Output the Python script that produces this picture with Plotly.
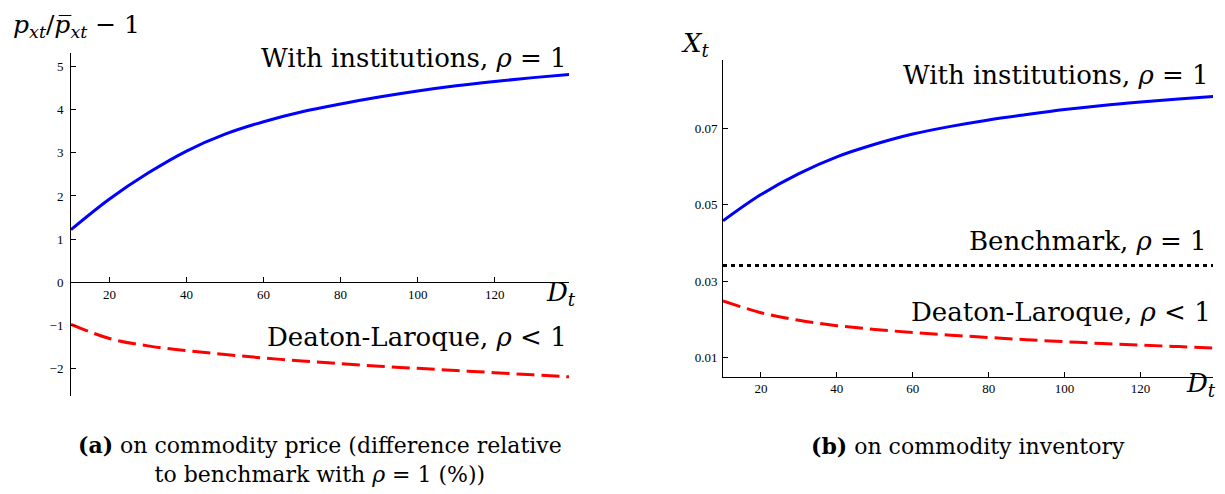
import plotly.graph_objects as go

# demand D_t (x axis) shared by both panels
demand = [10, 20, 30, 40, 50, 60, 70, 80, 90, 100, 110, 120, 130, 140]

# panel (a): price difference vs benchmark, in %
price_inst = [1.22, 1.93, 2.53, 3.04, 3.43, 3.72, 3.95, 4.13, 4.29, 4.43, 4.55, 4.65, 4.74, 4.82]
price_dl = [-0.97, -1.30, -1.47, -1.58, -1.67, -1.75, -1.82, -1.88, -1.94, -1.99, -2.04, -2.09, -2.14, -2.19]

# panel (b): inventory
inv_inst = [0.0458, 0.0527, 0.0582, 0.0626, 0.0659, 0.0686, 0.0706, 0.0723, 0.0737,
            0.0750, 0.0761, 0.0770, 0.0778, 0.0785]
inv_bench = [0.0341] * len(demand)
inv_dl = [0.0248, 0.0217, 0.0197, 0.0183, 0.0173, 0.0165, 0.0158, 0.0152, 0.0146,
          0.0141, 0.0136, 0.0132, 0.0128, 0.0124]

x_ticks = [20, 40, 60, 80, 100, 120]
price_ticks = [-2, -1, 0, 1, 2, 3, 4, 5]
inv_ticks = [0.01, 0.03, 0.05, 0.07]

W, H = 1225, 494
SERIF = "DejaVu Serif"

fig = go.Figure()

# left panel
fig.add_trace(go.Scatter(x=demand, y=price_inst, mode="lines", line_shape="spline",
                         line=dict(color="#0000ff", width=3), xaxis="x", yaxis="y"))
fig.add_trace(go.Scatter(x=demand, y=price_dl, mode="lines", line_shape="spline",
                         line=dict(color="#ff0000", width=3, dash="18px,7px"), xaxis="x", yaxis="y"))
# right panel
fig.add_trace(go.Scatter(x=demand, y=inv_inst, mode="lines", line_shape="spline",
                         line=dict(color="#0000ff", width=3), xaxis="x2", yaxis="y2"))
fig.add_trace(go.Scatter(x=demand, y=inv_bench, mode="lines",
                         line=dict(color="black", width=3, dash="4px,4px"), xaxis="x2", yaxis="y2"))
fig.add_trace(go.Scatter(x=demand, y=inv_dl, mode="lines", line_shape="spline",
                         line=dict(color="#ff0000", width=3, dash="18px,7px"), xaxis="x2", yaxis="y2"))

tickfont = dict(family="Liberation Serif", size=13, color="black")
ax_common = dict(showgrid=False, zeroline=False, showline=True, linecolor="black", linewidth=1,
                 ticks="inside", ticklen=5, tickcolor="black", tickfont=tickfont)

# pixel -> paper helpers
def px(x):
    return x / W

def py(y):
    return 1 - y / H

fig.update_layout(
    width=W, height=H,
    margin=dict(l=0, r=0, t=0, b=0),
    paper_bgcolor="white", plot_bgcolor="white",
    showlegend=False,
    xaxis=dict(domain=[px(63), px(561)], range=[10, 139.3], tickvals=x_ticks,
               anchor="free", position=py(274.3), **ax_common),
    yaxis=dict(domain=[py(388), py(45)], range=[-2.63, 5.31], tickvals=price_ticks,
               anchor="x", ticklabelstandoff=4, **ax_common),
    xaxis2=dict(domain=[px(715), px(1205)], range=[10, 139.1], tickvals=x_ticks,
                anchor="y2", **ax_common),
    yaxis2=dict(domain=[py(368.7), py(51.7)], range=[0.0049, 0.0881], tickvals=inv_ticks,
                anchor="x2", ticklabelstandoff=2, **ax_common),
)

big = dict(family=SERIF, size=26, color="black")
cap = dict(family=SERIF, size=22, color="black")

def note(x, y, text, xanchor="right", font=big):
    fig.add_annotation(x=px(x), y=py(y - 8), xref="paper", yref="paper", text=text,
                       showarrow=False, xanchor=xanchor, yanchor="middle", font=font,
                       borderpad=0)

# panel (a) labels
note(4, 26, "<i>p</i><sub><i>xt</i></sub>/<i>p̅</i><sub><i>xt</i></sub> − 1", xanchor="left",
     font=dict(family=SERIF, size=25, color="black"))
note(560, 58, "With institutions, <i>ρ</i> = 1")
note(537, 293, "<i>D</i><sub><i>t</i></sub>", xanchor="left")
note(560, 337, "Deaton-Laroque, <i>ρ</i> &lt; 1")

# panel (b) labels
note(672, 45, "<i>X</i><sub><i>t</i></sub>", xanchor="left")
note(1202, 75, "With institutions, <i>ρ</i> = 1")
note(1200, 241, "Benchmark, <i>ρ</i> = 1")
note(1204, 312, "Deaton-Laroque, <i>ρ</i> &lt; 1")
note(1177, 384, "<i>D</i><sub><i>t</i></sub>", xanchor="left")

# captions
note(312, 459, "<b>(a)</b> on commodity price (difference relative<br>to benchmark with <i>ρ</i> = 1 (%))",
     xanchor="center", font=cap)
note(960, 446, "<b>(b)</b> on commodity inventory", xanchor="center", font=cap)

fig.write_html("out.html")
